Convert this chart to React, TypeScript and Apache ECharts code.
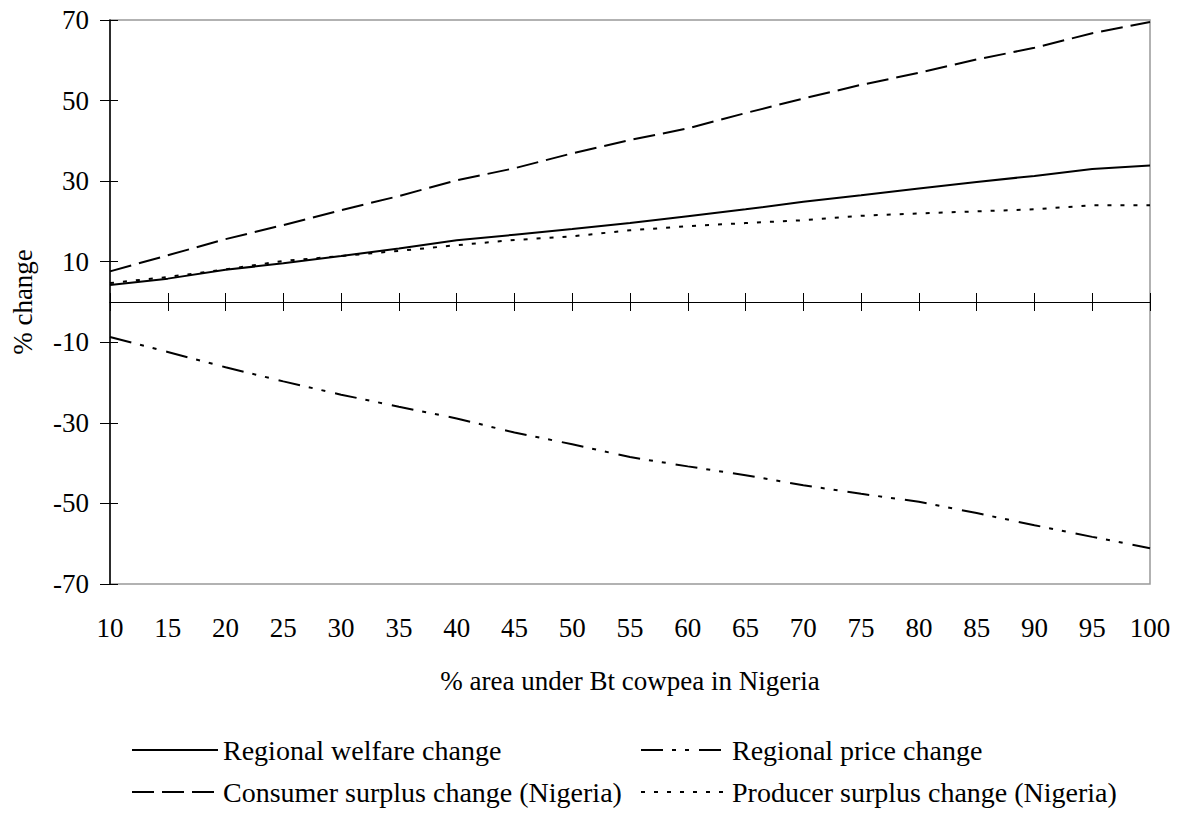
import React, { useEffect, useRef } from "react";
import * as echarts from "echarts";

const categories = ["10", "15", "20", "25", "30", "35", "40", "45", "50", "55", "60", "65", "70", "75", "80", "85", "90", "95", "100"];
const welfareChange = [4.2, 5.8, 8.0, 9.6, 11.4, 13.3, 15.3, 16.7, 18.1, 19.6, 21.3, 23.0, 24.9, 26.5, 28.2, 29.8, 31.3, 33.0, 33.9];
const priceChange = [-8.7, -12.4, -16.2, -19.7, -23.0, -26.0, -28.9, -32.4, -35.3, -38.5, -40.8, -43.0, -45.5, -47.6, -49.6, -52.4, -55.4, -58.3, -61.1];
const consumerSurplus = [7.6, 11.6, 15.6, 19.1, 22.8, 26.3, 30.2, 33.2, 36.9, 40.2, 43.1, 46.9, 50.5, 53.9, 56.9, 60.2, 63.1, 66.7, 69.5];
const producerSurplus = [4.7, 6.2, 8.1, 10.2, 11.4, 12.7, 14.1, 15.4, 16.3, 17.8, 18.8, 19.6, 20.3, 21.4, 22.0, 22.5, 23.0, 24.0, 24.0];
const seriesNames = [
  "Regional welfare change",
  "Regional price change",
  "Consumer surplus change (Nigeria)",
  "Producer surplus change (Nigeria)",
];
const yMin = -70;
const yMax = 70;
const yStep = 20;

const FONT = "Liberation Serif";

export default function App() {
  const ref = useRef<HTMLDivElement | null>(null);

  useEffect(() => {
    if (!ref.current) return;
    const chart = echarts.init(ref.current, null, { renderer: "svg" });

    const legendBase = {
      padding: 0,
      itemWidth: 86,
      itemHeight: 14,
      itemGap: 0,
      selectedMode: false,
      itemStyle: { opacity: 0, color: "rgba(0,0,0,0)", borderWidth: 0 },
      textStyle: { fontSize: 28, fontFamily: FONT, color: "#000" },
    };

    const lineSeries = (name: string, data: number[], type: any) => ({
      name,
      type: "line",
      data,
      symbol: "none",
      smooth: false,
      xAxisIndex: 0,
      yAxisIndex: 0,
      lineStyle: { color: "#000", width: 2, type },
      itemStyle: { color: "#000" },
      z: 5,
    });

    const zeroAxisBase = {
      type: "category",
      data: categories,
      position: "bottom",
      boundaryGap: false,
      axisLabel: { show: false },
      splitLine: { show: false },
      axisLine: { show: true, onZero: true, onZeroAxisIndex: 0, lineStyle: { color: "#000", width: 1 } },
    };

    chart.setOption({
      animation: false,
      backgroundColor: "#fff",
      textStyle: { fontFamily: FONT, color: "#000" },
      grid: {
        left: 110,
        top: 20,
        right: 29,
        bottom: 231,
        show: true,
        borderColor: "#999",
        borderWidth: 1.5,
        backgroundColor: "transparent",
      },
      legend: [
        { ...legendBase, data: [seriesNames[0]], left: 131, top: 736 },
        { ...legendBase, data: [seriesNames[1]], left: 640, top: 736 },
        { ...legendBase, data: [seriesNames[2]], left: 131, top: 778 },
        { ...legendBase, data: [seriesNames[3]], left: 640, top: 778 },
      ],
      xAxis: [
        {
          type: "category",
          data: categories,
          position: "bottom",
          boundaryGap: false,
          axisLine: { show: false, onZero: false },
          axisTick: { show: false },
          splitLine: { show: false },
          axisLabel: { interval: 0, fontSize: 27, fontFamily: FONT, color: "#000", margin: 30 },
          name: "% area under Bt cowpea in Nigeria",
          nameLocation: "middle",
          nameGap: 83,
          nameTextStyle: { fontSize: 27, fontFamily: FONT, color: "#000" },
        },
        {
          ...zeroAxisBase,
          axisTick: { show: true, inside: false, length: 9, interval: 0, lineStyle: { color: "#000", width: 1 } },
        },
        {
          ...zeroAxisBase,
          axisTick: { show: true, inside: true, length: 9, interval: 0, lineStyle: { color: "#000", width: 1 } },
        },
      ],
      yAxis: [
        {
          type: "value",
          position: "left",
          min: yMin,
          max: yMax,
          interval: yStep,
          splitLine: { show: false },
          axisLine: { show: true, lineStyle: { color: "#000", width: 1.5 } },
          axisTick: { show: true, inside: false, length: 10, lineStyle: { color: "#000", width: 1 } },
          axisLabel: { fontSize: 27, fontFamily: FONT, color: "#000", margin: 21 },
          name: "% change",
          nameLocation: "middle",
          nameGap: 74,
          nameRotate: 90,
          nameTextStyle: { fontSize: 27, fontFamily: FONT, color: "#000" },
        },
        {
          type: "value",
          position: "left",
          min: yMin,
          max: yMax,
          interval: yStep,
          splitLine: { show: false },
          axisLine: { show: false },
          axisTick: { show: true, inside: true, length: 8, lineStyle: { color: "#000", width: 1 } },
          axisLabel: { show: false },
        },
      ],
      series: [
        lineSeries(seriesNames[0], welfareChange, "solid"),
        lineSeries(seriesNames[1], priceChange, [22, 9, 4, 9, 4, 10]),
        lineSeries(seriesNames[2], consumerSurplus, [22, 8]),
        lineSeries(seriesNames[3], producerSurplus, [4, 9]),
      ],
    });

    return () => {
      chart.dispose();
    };
  }, []);

  return (
    <div
      ref={ref}
      style={{ position: "fixed", left: 0, top: 0, width: 1179, height: 815, background: "#fff" }}
    />
  );
}
